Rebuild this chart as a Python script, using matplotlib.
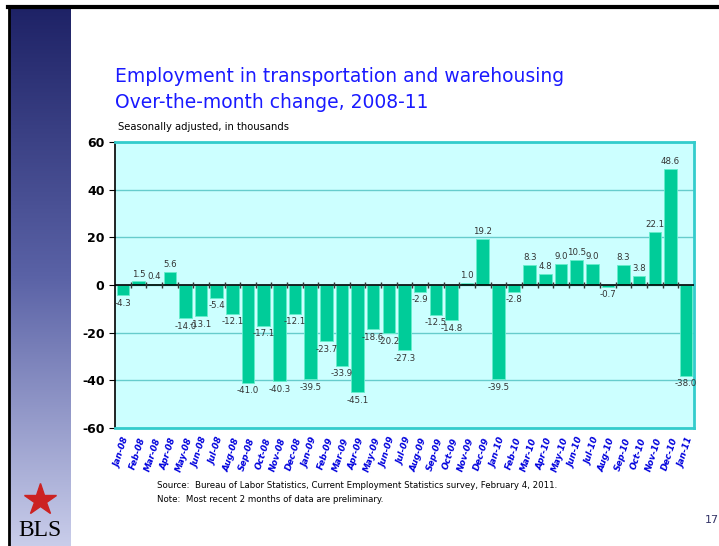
import numpy as np
import matplotlib
matplotlib.use('Agg')
import matplotlib.pyplot as plt
from matplotlib.colors import LinearSegmentedColormap

meses = ['Jan-08', 'Feb-08', 'Mar-08', 'Apr-08', 'May-08', 'Jun-08', 'Jul-08', 'Aug-08',
         'Sep-08', 'Oct-08', 'Nov-08', 'Dec-08', 'Jan-09', 'Feb-09', 'Mar-09', 'Apr-09',
         'May-09', 'Jun-09', 'Jul-09', 'Aug-09', 'Sep-09', 'Oct-09', 'Nov-09', 'Dec-09',
         'Jan-10', 'Feb-10', 'Mar-10', 'Apr-10', 'May-10', 'Jun-10', 'Jul-10', 'Aug-10',
         'Sep-10', 'Oct-10', 'Nov-10', 'Dec-10', 'Jan-11']
variacao = [-4.3, 1.5, 0.4, 5.6, -14.0, -13.1, -5.4, -12.1,
            -41.0, -17.1, -40.3, -12.1, -39.5, -23.7, -33.9, -45.1,
            -18.6, -20.2, -27.3, -2.9, -12.5, -14.8, 1.0, 19.2,
            -39.5, -2.8, 8.3, 4.8, 9.0, 10.5, 9.0, -0.7,
            8.3, 3.8, 22.1, 48.6, -38.0]
yticks = [-60, -40, -20, 0, 20, 40, 60]

fig = plt.figure(figsize=(7.19, 5.46), dpi=100)
W, H = 719, 546

# faixa lateral com degrade
strip = fig.add_axes([10 / W, 0, 60 / W, 539 / H])
cmap = LinearSegmentedColormap.from_list('faixa', ['#1e2266', '#5a62a6', '#c9cdea'])
strip.imshow(np.linspace(0, 1, 256).reshape(-1, 1), aspect='auto', cmap=cmap)
strip.axis('off')

# bordas pretas do slide
fig.add_artist(plt.Line2D([8 / W, 1], [539 / H, 539 / H], color='black', lw=3))
fig.add_artist(plt.Line2D([9 / W, 9 / W], [0, 539 / H], color='black', lw=2))

ax = fig.add_axes([115 / W, 1 - 428 / H, 579 / W, 286 / H])
ax.set_facecolor('#ccffff')
x = np.arange(len(meses))
ax.bar(x, variacao, width=0.8, color='#00cc99', edgecolor='#66eecc', linewidth=0.6, zorder=3)

for i, v in enumerate(variacao):
    if v >= 0:
        ax.text(i, v + 1.2, f'{v:.1f}', ha='center', va='bottom', fontsize=6.2, color='#333333', zorder=4)
    else:
        ax.text(i, v - 1.5, f'{v:.1f}', ha='center', va='top', fontsize=6.2, color='#333333', zorder=4)

ax.set_xlim(-0.5, len(meses) - 0.5)
ax.set_ylim(-60, 60)
ax.set_yticks(yticks)
ax.set_yticklabels([str(t) for t in yticks], fontsize=9, fontweight='bold')
ax.yaxis.grid(True, color='#66cccc', lw=1, zorder=0)
ax.axhline(0, color='black', lw=1.2, zorder=5)
ax.plot(x[1:] - 0.5, np.zeros(len(x) - 1), ls='none', marker='|', ms=5, color='#333333', zorder=5)

ax.set_xticks(x)
ax.set_xticklabels(meses, rotation=72, ha='right', rotation_mode='anchor', fontsize=6.3,
                   color='#0000dd', fontweight='bold', fontstyle='italic')
ax.tick_params(axis='x', length=0, pad=6)
ax.tick_params(axis='y', length=4, color='black', direction='out')

for lado in ['top', 'right', 'bottom']:
    ax.spines[lado].set_color('#33cccc')
    ax.spines[lado].set_linewidth(2)
ax.spines['left'].set_color('black')
ax.spines['left'].set_linewidth(1.2)

# titulos
fig.text(115 / W, 1 - 76 / H, 'Employment in transportation and warehousing', fontsize=13.5,
         color='#1a1aff', va='center')
fig.text(115 / W, 1 - 103 / H, 'Over-the-month change, 2008-11', fontsize=13.5,
         color='#1a1aff', va='center')
fig.text(118 / W, 1 - 127 / H, 'Seasonally adjusted, in thousands', fontsize=7.2,
         color='black', va='center')

fig.text(157 / W, 1 - 485 / H,
         'Source:  Bureau of Labor Statistics, Current Employment Statistics survey, February 4, 2011.',
         fontsize=6.2, color='black', va='center')
fig.text(157 / W, 1 - 500 / H, 'Note:  Most recent 2 months of data are preliminary.',
         fontsize=6.2, color='black', va='center')
fig.text(705 / W, 1 - 520 / H, '17', fontsize=8, color='#333366', va='center')

# logo BLS
fig.text(40 / W, 1 - 530 / H, 'BLS', fontsize=17, family='Liberation Serif', color='black',
         ha='center', va='center')
fig.add_artist(plt.Line2D([40 / W], [1 - 500 / H], marker='*', ms=24, color='#cc2222',
                          markeredgecolor='#cc2222'))

fig.savefig('out.png', dpi=100)
